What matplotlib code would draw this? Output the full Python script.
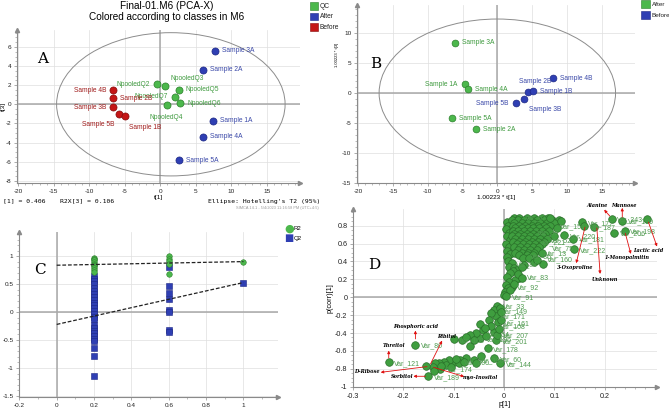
import matplotlib
matplotlib.use("Agg")
import matplotlib.pyplot as plt
from matplotlib.patches import Rectangle, Ellipse

W, H = 669, 408

# ---- panel A : PCA-X scores, t[1] vs t[3]
a_names = ["Sample 3A", "Sample 2A", "Sample 1A", "Sample 4A", "Sample 5A",
           "NpooledQ2", "NpooledQ3", "NpooledQ5", "NpooledQ7", "NpooledQ6", "NpooledQ4",
           "Sample 4B", "Sample 2B", "Sample 3B", "Sample 5B", "Sample 1B"]
a_class = ["After"] * 5 + ["QC"] * 6 + ["Before"] * 5
a_t1 = [7.7, 6.0, 7.4, 6.1, 2.7, -0.5, 0.66, 2.6, 2.1, 2.8, 0.9, -6.65, -6.65, -6.65, -5.8, -4.95]
a_t3 = [5.6, 3.6, -1.7, -3.4, -5.85, 2.1, 1.95, 1.5, 0.8, 0.1, -0.05, 1.45, 0.62, -0.33, -1.0, -1.23]
a_labpos = ["r", "r", "r", "r", "r", "l", "ur", "r", "l", "r", "b", "l", "r", "l", "bl", "br"]

# ---- panel B
b_names = ["Sample 3A", "Sample 1A", "Sample 4A", "Sample 5A", "Sample 2A",
           "Sample 4B", "Sample 2B", "Sample 1B", "Sample 3B", "Sample 5B"]
b_class = ["After"] * 5 + ["Before"] * 5
b_t1 = [-6.04, -4.7, -4.2, -6.57, -3.0, 7.96, 4.46, 5.2, 3.9, 2.64]
b_t3 = [8.44, 1.45, 0.6, -4.25, -6.1, 2.46, 0.11, 0.33, -0.95, -1.73]
b_labpos = ["r", "l", "r", "r", "r", "r", "u", "r", "br", "l"]

# ---- panel C : permutation test
c_r2_x = [0.2] * 10 + [0.6] * 5 + [1.0]
c_r2_y = [0.97, 0.95, 0.93, 0.90, 0.87, 0.85, 0.82, 0.79, 0.75, 0.72,
          1.0, 0.95, 0.91, 0.86, 0.69, 0.905]
c_q2_x = [0.2] * 26 + [0.6] * 8 + [1.0]
c_q2_y = [0.65, 0.60, 0.55, 0.50, 0.44, 0.37, 0.32, 0.27, 0.22, 0.17, 0.12, 0.07, 0.02,
          -0.03, -0.08, -0.12, -0.23, -0.28, -0.33, -0.38, -0.43, -0.48, -0.52, -0.65,
          -0.78, -1.15,
          0.8, 0.46, 0.34, 0.23, 0.04, 0.0, -0.32, -0.36,
          0.53]
c_r2_line = [(0.0, 0.84), (1.0, 0.905)]
c_q2_line = [(0.0, -0.22), (1.0, 0.53)]

# ---- panel D : S-plot p[1] vs p(corr)[1]
d_x = [0.005, 0.008, 0.004, 0.010, 0.006, 0.012, 0.004, 0.009, 0.006, 0.012, 0.005, 0.008,
       0.015, 0.010, 0.020, 0.025, 0.018, 0.012, 0.006, 0.030, 0.022, 0.010, 0.004, 0.015,
       0.008, 0.002, 0.012, 0.020, 0.028, 0.035, 0.000, 0.004,
       0.020, 0.030, 0.045, 0.060, 0.075, 0.088,
       0.015, 0.028, 0.040, 0.052, 0.065, 0.080, 0.095, 0.110,
       0.020, 0.035, 0.048, 0.060, 0.072, 0.085, 0.100,
       0.018, 0.030, 0.042, 0.055, 0.068, 0.080, 0.092,
       0.022, 0.035, 0.047, 0.058, 0.070, 0.083, 0.105,
       0.017, 0.028, 0.040, 0.052, 0.064, 0.076, 0.090,
       0.020, 0.032, 0.045, 0.058, 0.070, 0.082,
       0.016, 0.028, 0.040, 0.052, 0.065, 0.078, 0.100,
       0.022, 0.035, 0.048, 0.060, 0.072, 0.085,
       0.018, 0.030, 0.042, 0.055, 0.068, 0.080,
       0.025, 0.038, 0.050, 0.062, 0.075,
       0.020, 0.032, 0.045, 0.058, 0.070,
       0.028, 0.040, 0.052, 0.065,
       0.022, 0.035, 0.048, 0.060, 0.075,
       0.030, 0.045, 0.058, 0.038, 0.050, 0.059, 0.077, 0.065, 0.040, 0.035,
       0.092, 0.114, 0.155, 0.159, 0.178, 0.2136, 0.235, 0.285, 0.240, 0.219,
       0.137, 0.140, 0.120,
       -0.013, -0.020, -0.008, -0.015, -0.011, -0.025, -0.005, -0.030, -0.048, -0.042,
       -0.020, -0.047, -0.055, -0.068, -0.068, -0.084, -0.100, -0.032, -0.016, -0.014,
       -0.035, -0.060, -0.075, -0.025, -0.038, -0.010, -0.005,
       -0.020, -0.007, -0.045, -0.060, -0.075, -0.088, -0.100, -0.110, -0.120, -0.130,
       -0.138, -0.142, -0.128, -0.115, -0.105, -0.090, -0.154, -0.151, -0.140, -0.125,
       -0.095, -0.080, -0.055,
       -0.229, -0.176]
d_y = [0.84, 0.80, 0.76, 0.72, 0.68, 0.64, 0.60, 0.56, 0.52, 0.48, 0.45, 0.41,
       0.38, 0.34, 0.33, 0.31, 0.29, 0.27, 0.23, 0.21, 0.19, 0.17, 0.14, 0.12,
       0.10, 0.06, 0.08, 0.15, 0.26, 0.22, 0.03, 0.01,
       0.89, 0.89, 0.89, 0.89, 0.89, 0.89,
       0.86, 0.86, 0.86, 0.86, 0.86, 0.86, 0.86, 0.86,
       0.83, 0.83, 0.83, 0.83, 0.83, 0.83, 0.83,
       0.80, 0.80, 0.80, 0.80, 0.80, 0.80, 0.80,
       0.77, 0.77, 0.77, 0.77, 0.77, 0.77, 0.77,
       0.74, 0.74, 0.74, 0.74, 0.74, 0.74, 0.74,
       0.71, 0.71, 0.71, 0.71, 0.71, 0.71,
       0.68, 0.68, 0.68, 0.68, 0.68, 0.68, 0.68,
       0.65, 0.65, 0.65, 0.65, 0.65, 0.65,
       0.62, 0.62, 0.62, 0.62, 0.62, 0.62,
       0.59, 0.59, 0.59, 0.59, 0.59,
       0.56, 0.56, 0.56, 0.56, 0.56,
       0.53, 0.53, 0.53, 0.53,
       0.50, 0.50, 0.50, 0.50, 0.50,
       0.47, 0.47, 0.47, 0.44, 0.44, 0.39, 0.37, 0.42, 0.36, 0.34,
       0.888, 0.858, 0.84, 0.802, 0.79, 0.88, 0.858, 0.88, 0.746, 0.724,
       0.657, 0.534, 0.694,
       -0.093, -0.142, -0.12, -0.205, -0.28, -0.18, -0.16, -0.26, -0.30, -0.366,
       -0.39, -0.455, -0.40, -0.418, -0.55, -0.475, -0.47, -0.567, -0.478, -0.418,
       -0.43, -0.48, -0.44, -0.32, -0.34, -0.35, -0.25,
       -0.68, -0.74, -0.66, -0.70, -0.68, -0.70, -0.72, -0.70, -0.72, -0.74,
       -0.73, -0.78, -0.80, -0.76, -0.78, -0.74, -0.765, -0.884, -0.82, -0.77,
       -0.69, -0.72, -0.73,
       -0.728, -0.53]

d_lab_names = ["Var_67", "Var_151", "Var_177", "Var_187", "Var_181", "Var_222", "Var_220",
               "Var_75", "Var_160", "Var_83", "Var_84", "Var_91", "Var_198", "Var_199",
               "Var_206", "Var_243", "Var_221", "Var_86", "Var_13", "Var_52", "Var_36",
               "Var_33", "Var_149", "Var_171", "Var_161", "Var_108", "Var_207", "Var_201",
               "Var_178", "Var_60", "Var_144", "Var_186", "Var_200", "Var_189", "Var_174",
               "Var_121", "Var_80", "Var_54", "Var_168", "Var_92", "Var_196"]
d_lab_x = [0.030, 0.100, 0.155, 0.159, 0.137, 0.140, 0.120,
           0.085, 0.075, 0.035, 0.012, 0.004, 0.240, 0.235,
           0.219, 0.213, 0.060, 0.040, 0.070, 0.080, 0.055,
           -0.013, -0.015, -0.020, -0.011, -0.020, -0.014, -0.016,
           -0.032, -0.020, -0.007, -0.060, -0.090, -0.151, -0.125,
           -0.229, -0.176, -0.042, -0.100, 0.015, -0.047]
d_lab_y = [0.907, 0.80, 0.84, 0.79, 0.657, 0.534, 0.694,
           0.56, 0.43, 0.235, 0.38, 0.01, 0.746, 0.858,
           0.724, 0.88, 0.62, 0.47, 0.50, 0.65, 0.74,
           -0.093, -0.142, -0.205, -0.28, -0.32, -0.418, -0.478,
           -0.567, -0.68, -0.74, -0.70, -0.72, -0.884, -0.80,
           -0.728, -0.53, -0.40, -0.47, 0.12, -0.455]

d_ann = ["Alanine", "Mannose", "Lactic acid", "1-Monopalmitin", "Unknown", "3-Oxoproline",
         "Phosphoric acid", "Threitol", "Ribitol", "D-Ribose", "Sorbitol", "myo-Inositol"]
d_ann_text = [(0.1845, 1.026), (0.239, 1.026), (0.287, 0.522), (0.244, 0.448), (0.201, 0.194),
              (0.1415, 0.336), (-0.1746, -0.328), (-0.219, -0.541), (-0.114, -0.44),
              (-0.272, -0.832), (-0.202, -0.884), (-0.047, -0.903)]
d_ann_tail = [(0.21, 0.91), (0.235, 0.896), (0.287, 0.84), (0.241, 0.716), (0.1845, 0.776),
              (0.161, 0.784), (-0.176, -0.466), (-0.229, -0.679), (-0.146, -0.746),
              (-0.153, -0.776), (-0.156, -0.884), (-0.14, -0.784)]
d_ann_head = [(0.199, 0.978), (0.235, 1.0), (0.304, 0.567), (0.252, 0.485), (0.191, 0.261),
              (0.1435, 0.381), (-0.176, -0.373), (-0.229, -0.597), (-0.123, -0.485),
              (-0.245, -0.84), (-0.18, -0.884), (-0.079, -0.888)]

fill = {"QC": "#4cb84c", "After": "#2f3fb3", "Before": "#c41616"}
edge = {"QC": "#2c7f2c", "After": "#1c2784", "Before": "#850c0c"}
txtc = {"QC": "#3e9a3e", "After": "#3a48a8", "Before": "#a01c1c"}

SANS = ["Liberation Sans Narrow", "Liberation Sans", "DejaVu Sans"]
plt.rcParams["font.family"] = SANS
plt.rcParams["axes.unicode_minus"] = False

fig = plt.figure(figsize=(W / 100, H / 100), dpi=100)


def px_axes(l, t, r, b):
    return fig.add_axes([l / W, 1 - b / H, (r - l) / W, (b - t) / H])


def simca(ax, xlim, ylim, xticks, yticks, xminor=None, yminor=None):
    ax.set_xlim(*xlim)
    ax.set_ylim(*ylim)
    ax.set_xticks(xticks)
    ax.set_yticks(yticks)
    if xminor is not None:
        ax.set_xticks(xminor, minor=True)
    if yminor is not None:
        ax.set_yticks(yminor, minor=True)
    for s in ["top", "right"]:
        ax.spines[s].set_visible(False)
    for s in ["left", "bottom"]:
        ax.spines[s].set_color("#8a8a8a")
        ax.spines[s].set_linewidth(0.8)
    ax.grid(True, color="#dedede", lw=0.5)
    ax.set_axisbelow(True)
    ax.tick_params(labelsize=4.6, colors="#8a8a8a", labelcolor="#222222", length=2, width=0.5, pad=2)
    ax.tick_params(which="minor", length=1.2, width=0.4, colors="#8a8a8a")
    ax.axhline(0, color="#a8a8a8", lw=1.1, zorder=1)
    ax.axvline(0, color="#a8a8a8", lw=1.1, zorder=1)
    ax.plot(0, 1, "^", transform=ax.transAxes, clip_on=False, ms=3, color="#8a8a8a")
    ax.plot(1, 0, ">", transform=ax.transAxes, clip_on=False, ms=3, color="#8a8a8a")


off = {"r": (5, 0, "left", "center"), "l": (-5, 0, "right", "center"),
       "ur": (4, 5, "left", "center"), "u": (5, 8, "center", "center"),
       "b": (0, -9, "center", "center"), "bl": (-3, -8, "right", "center"),
       "br": (3, -8, "left", "center")}

# ---------------- A
ax = px_axes(17, 30, 300, 183)
simca(ax, (-20.18, 19.7), (-8.24, 7.78), range(-20, 16, 5), range(-8, 7, 2),
      range(-20, 20, 1), [v / 2 for v in range(-16, 16)])
ax.add_patch(Ellipse((1.5, 0), 32.2, 15.0, fill=False, ec="#8c8c8c", lw=0.7))
for n, c, x, y, p in zip(a_names, a_class, a_t1, a_t3, a_labpos):
    ax.scatter(x, y, s=26, color=fill[c], edgecolor=edge[c], lw=0.5, zorder=3)
    dx, dy, ha, va = off[p]
    ax.annotate(n, (x, y), xytext=(dx, dy), textcoords="offset points", ha=ha, va=va,
                fontsize=4.8, color=txtc[c], zorder=4)
ax.text(-17.3, 4.3, "A", family="DejaVu Serif", fontsize=11)
ax.set_xlabel("t[1]", fontsize=4.6, labelpad=1)
ax.set_ylabel("t[3]", fontsize=4.6)
ax.yaxis.set_label_coords(-0.038, 0.5)
fig.text(167 / W, 1 - 6 / H, "Final-01.M6 (PCA-X)", ha="center", va="center", fontsize=7.2)
fig.text(167 / W, 1 - 17 / H, "Colored according to classes in M6", ha="center", va="center", fontsize=7.2)
for i, c in enumerate(["QC", "After", "Before"]):
    y0 = 2 + i * 10.7
    fig.patches.append(Rectangle((310 / W, 1 - (y0 + 7.5) / H), 7.5 / W, 7.5 / H,
                                 transform=fig.transFigure, fc=fill[c], ec=edge[c], lw=0.4))
    fig.text(320 / W, 1 - (y0 + 4) / H, c, fontsize=4.8, va="center", color="#222222")
MONO = "DejaVu Sans Mono"
fig.text(3 / W, 1 - 201 / H, "[1] = 0.406", family=MONO, fontsize=4.6, va="center")
fig.text(60 / W, 1 - 201 / H, "R2X[3] = 0.106", family=MONO, fontsize=4.6, va="center")
fig.text(208 / W, 1 - 201 / H, "Ellipse: Hotelling's T2 (95%)", family=MONO, fontsize=4.6, va="center")
fig.text(236 / W, 1 - 208 / H, "SIMCA 14.1 - 5/4/2023 11:16:58 PM (UTC+4:5)", fontsize=2.8,
         color="#999999", va="center")

# ---------------- B
ax = px_axes(357, 5, 635, 183)
simca(ax, (-20.18, 19.8), (-15.08, 14.75), range(-20, 16, 5), range(-15, 11, 5),
      range(-20, 20, 1), range(-15, 15, 1))
ax.add_patch(Ellipse((0, 0), 34.0, 24.8, fill=False, ec="#8c8c8c", lw=0.7))
bfill = {"After": fill["QC"], "Before": fill["After"]}
bedge = {"After": edge["QC"], "Before": edge["After"]}
btxt = {"After": txtc["QC"], "Before": txtc["After"]}
for n, c, x, y, p in zip(b_names, b_class, b_t1, b_t3, b_labpos):
    ax.scatter(x, y, s=24, color=bfill[c], edgecolor=bedge[c], lw=0.5, zorder=3)
    dx, dy, ha, va = off[p]
    ax.annotate(n, (x, y), xytext=(dx, dy), textcoords="offset points", ha=ha, va=va,
                fontsize=4.8, color=btxt[c], zorder=4)
ax.text(-18.3, 4.2, "B", family="DejaVu Serif", fontsize=11)
ax.set_xlabel("1.00223 * t[1]", fontsize=4.6, labelpad=1)
ax.set_ylabel("1.00223 * t[3]", fontsize=3)
ax.yaxis.set_label_coords(-0.065, 0.72)
for i, c in enumerate(["After", "Before"]):
    y0 = 0 + i * 11
    fig.patches.append(Rectangle((641 / W, 1 - (y0 + 8) / H), 8.5 / W, 8 / H,
                                 transform=fig.transFigure, fc=bfill[c], ec=bedge[c], lw=0.4))
    fig.text(652 / W, 1 - (y0 + 4.5) / H, c, fontsize=4.6, va="center", color="#222222")

# ---------------- C
ax = px_axes(19, 232, 278, 397)
simca(ax, (-0.202, 1.185), (-1.52, 1.435), [-0.2, 0, 0.2, 0.4, 0.6, 0.8, 1],
      [-1.5, -1, -0.5, 0, 0.5, 1], [v / 10 for v in range(-2, 12)], [v / 10 for v in range(-15, 15)])
ax.set_xticklabels(["-0.2", "0", "0.2", "0.4", "0.6", "0.8", "1"])
ax.set_yticklabels(["-1.5", "-1", "-0.5", "0", "0.5", "1"])
ax.plot(*zip(*c_r2_line), "--", color="#222222", lw=0.9, dashes=(3, 1.5), zorder=4)
ax.plot(*zip(*c_q2_line), "--", color="#222222", lw=0.9, dashes=(3, 1.5), zorder=4)
ax.scatter(c_q2_x, c_q2_y, s=16, marker="s", color=fill["After"], edgecolor=edge["After"],
           lw=0.4, zorder=3)
ax.scatter(c_r2_x, c_r2_y, s=16, color=fill["QC"], edgecolor=edge["QC"], lw=0.4, zorder=3)
ax.text(-0.12, 0.68, "C", family="DejaVu Serif", fontsize=11)
fig.text(289 / W, 1 - 229 / H, "●", color=fill["QC"], fontsize=8, ha="center", va="center",
         family="DejaVu Sans")
fig.text(289 / W, 1 - 238 / H, "■", color=fill["After"], fontsize=7, ha="center", va="center",
         family="DejaVu Sans")
fig.text(294 / W, 1 - 229 / H, "R2", fontsize=4.4, va="center")
fig.text(294 / W, 1 - 238 / H, "Q2", fontsize=4.4, va="center")

# ---------------- D
ax = px_axes(353, 209, 657, 387)
simca(ax, (-0.299, 0.304), (-1.004, 0.987), [-0.3, -0.2, -0.1, 0, 0.1, 0.2],
      [-1, -0.8, -0.6, -0.4, -0.2, 0, 0.2, 0.4, 0.6, 0.8],
      [v / 100 for v in range(-30, 31, 2)], [v / 20 for v in range(-20, 20)])
ax.set_xticklabels(["-0.3", "-0.2", "-0.1", "0", "0.1", "0.2"], fontsize=5.2)
ax.set_yticklabels(["-1", "-0.8", "-0.6", "-0.4", "-0.2", "0", "0.2", "0.4", "0.6", "0.8"],
                   fontsize=5.2)
ax.scatter(d_x, d_y, s=30, color="#3f9e3f", edgecolor="#2a6f2a", lw=0.5, zorder=3)
for n, x, y in zip(d_lab_names, d_lab_x, d_lab_y):
    ax.annotate(n, (x, y), xytext=(4, -1), textcoords="offset points", fontsize=5,
                color="#4f9a4f", va="center", zorder=4)
for n, t, tl, hd in zip(d_ann, d_ann_text, d_ann_tail, d_ann_head):
    ax.annotate("", xy=hd, xytext=tl, zorder=6, annotation_clip=False,
                arrowprops=dict(arrowstyle="-|>", color="#e01010", lw=0.6,
                                mutation_scale=4, shrinkA=0, shrinkB=0))
    ax.text(t[0], t[1], n, family="DejaVu Serif", style="italic", weight="bold",
            fontsize=3.6, ha="center", va="center", zorder=6, clip_on=False)
ax.text(-0.27, 0.32, "D", family="DejaVu Serif", fontsize=11)
ax.set_xlabel("p[1]", fontsize=5.2, labelpad=1)
ax.set_ylabel("p(corr)[1]", fontsize=5.2, labelpad=1)

fig.savefig("out.png", dpi=100)
